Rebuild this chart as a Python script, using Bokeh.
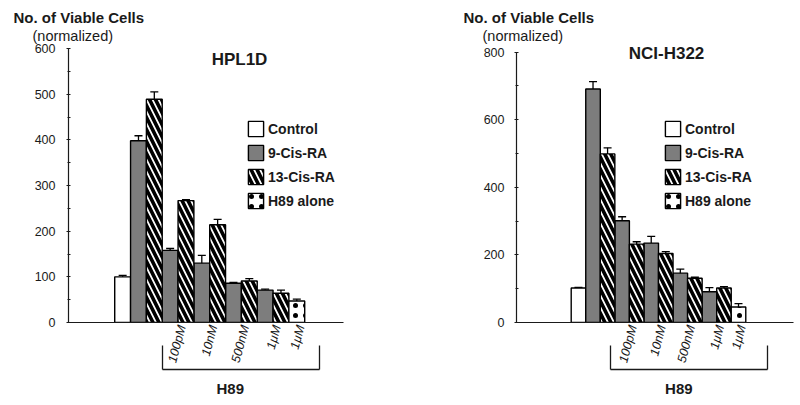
from bokeh.plotting import figure
from bokeh.models import (Range1d, FixedTicker, ColumnDataSource, Whisker, TeeHead,
                          Label, Legend, LegendItem, LinearAxis, Title)
from bokeh.layouts import row
from bokeh.embed import file_html
from bokeh.resources import INLINE

FONT = "Liberation Sans"

# ---------------- data ----------------
series_names = ["Control", "9-Cis-RA", "13-Cis-RA", "H89 alone"]
dose_labels = ["100pM", "10nM", "500nM", "1\u03bcM", "1\u03bcM"]   # H89 doses
bracket_title = "H89"
ytitle = "No. of Viable Cells"
ysub = "(normalized)"

# HPL1D
hpl_title = "HPL1D"
hpl_control = [100]
hpl_control_err = [3]
hpl_9cis = [398, 158, 130, 86, 71]        # no H89, 100pM, 10nM, 500nM, 1uM
hpl_9cis_err = [11, 4, 17, 2, 2]
hpl_13cis = [489, 267, 214, 91, 64]
hpl_13cis_err = [16, 2, 12, 5, 7]
hpl_alone = [47]
hpl_alone_err = [4]
hpl_yticks = [0, 100, 200, 300, 400, 500, 600]
hpl_yminor = [50, 150, 250, 350, 450, 550]

# NCI-H322
nci_title = "NCI-H322"
nci_control = [102]
nci_control_err = [2]
nci_9cis = [691, 301, 235, 146, 91]
nci_9cis_err = [22, 12, 20, 12, 12]
nci_13cis = [499, 232, 204, 131, 102]
nci_13cis_err = [18, 7, 6, 3, 4]
nci_alone = [46]
nci_alone_err = [10]
nci_yticks = [0, 200, 400, 600, 800]
nci_yminor = [100, 300, 500, 700]

GRAY = "#7d7d7d"
INK = "#1a1a1a"


def panel(title, control, control_err, cis9, cis9_err, cis13, cis13_err, alone, alone_err,
          yticks, yminor, geom):
    p = figure(width=geom["w"], height=405, output_backend="svg", toolbar_location=None,
               x_range=Range1d(*geom["xr"]), y_range=Range1d(0, geom["ytop"]),
               min_border_left=geom["bl"], min_border_right=geom["br"],
               min_border_top=44, min_border_bottom=83,
               background_fill_color="white", border_fill_color="white")
    p.outline_line_color = None
    p.grid.visible = False

    # bar positions: control, then (9-cis, 13-cis) pairs, then H89 alone
    n = len(cis9)
    x_ctrl = [0]
    x_9 = [1 + 2 * i for i in range(n)]
    x_13 = [2 + 2 * i for i in range(n)]
    x_alone = [2 * n + 1]

    styles = [
        dict(fill_color="white"),
        dict(fill_color=GRAY),
        dict(fill_color="white", hatch_pattern="\\", hatch_color="black",
             hatch_weight=3.6, hatch_scale=12),
        dict(fill_color="white", hatch_pattern=".", hatch_color="black",
             hatch_weight=4, hatch_scale=10),
    ]
    data = [(x_ctrl, control, control_err), (x_9, cis9, cis9_err),
            (x_13, cis13, cis13_err), (x_alone, alone, alone_err)]
    items = []
    for name, st, (xs, vals, errs) in zip(series_names, styles, data):
        src = ColumnDataSource(dict(x=xs, top=vals,
                                    upper=[v + e for v, e in zip(vals, errs)]))
        r = p.vbar(x="x", top="top", width=1, source=src, line_color="black",
                   line_width=1.4, **st)
        w = Whisker(source=src, base="x", lower="top", upper="upper",
                    line_color="black", line_width=1.3, lower_head=None,
                    upper_head=TeeHead(size=8, line_color="black", line_width=1.3),
                    level="overlay")
        p.add_layout(w)
        items.append(LegendItem(label=name, renderers=[r]))

    legend = Legend(items=items, location=geom["leg"], orientation="vertical",
                    glyph_width=19, glyph_height=19, label_height=19, spacing=5,
                    padding=0, margin=0, label_standoff=3,
                    label_text_font=FONT, label_text_font_style="bold",
                    label_text_font_size="14px", label_text_color=INK,
                    border_line_color=None, background_fill_alpha=0)
    p.add_layout(legend)

    # y axis
    p.yaxis.bounds = (0, yticks[-1])
    p.yaxis.ticker = FixedTicker(ticks=yticks, minor_ticks=yminor)
    p.yaxis.axis_line_color = INK
    p.yaxis.axis_line_width = 1.2
    p.yaxis.major_tick_in = 2
    p.yaxis.major_tick_out = 2
    p.yaxis.minor_tick_in = 2
    p.yaxis.minor_tick_out = 1
    p.yaxis.major_tick_line_color = INK
    p.yaxis.minor_tick_line_color = INK
    p.yaxis.major_label_standoff = geom["stand"]
    p.yaxis.major_label_text_font = FONT
    p.yaxis.major_label_text_font_size = "12.5px"
    p.yaxis.major_label_text_color = INK

    # x axis with the H89 dose labels
    lab_x = [x_9[i] + 0.75 for i in range(1, n)] + [x_alone[0] + 0.25]
    xa = p.xaxis[0]
    xa.ticker = FixedTicker(ticks=lab_x)
    xa.major_label_overrides = {t: s for t, s in zip(lab_x, dose_labels)}
    xa.major_label_orientation = 1.31
    xa.major_label_standoff = 3
    xa.major_tick_out = 0
    xa.major_tick_in = 0
    xa.major_tick_line_color = None
    xa.minor_tick_line_color = None
    xa.axis_line_color = INK
    xa.axis_line_width = 1.2
    xa.major_label_text_font = FONT
    xa.major_label_text_font_style = "italic"
    xa.major_label_text_font_size = "12.5px"
    xa.major_label_text_color = INK

    # invisible spacer axis
    sp = LinearAxis(ticker=FixedTicker(ticks=[]), axis_line_color=None,
                    major_tick_out=geom["gap"], major_tick_in=0,
                    major_tick_line_color=None, minor_tick_line_color=None,
                    major_label_standoff=0, major_label_text_font_size="0px")
    p.add_layout(sp, "below")

    # bracket axis for H89
    L, R = geom["brk"]
    H = geom["h89"]
    bx = LinearAxis(bounds=(L, R), ticker=FixedTicker(ticks=[H], minor_ticks=[L, R]),
                    major_label_overrides={H: bracket_title},
                    axis_line_color=INK, axis_line_width=1.3,
                    major_tick_line_color=None, major_tick_in=0, major_tick_out=0,
                    minor_tick_line_color=INK, minor_tick_line_width=1.3,
                    minor_tick_in=24, minor_tick_out=0,
                    major_label_standoff=10, major_label_text_font=FONT,
                    major_label_text_font_style="bold",
                    major_label_text_font_size="15px", major_label_text_color=INK)
    p.add_layout(bx, "below")

    # y axis titles above the plot
    p.add_layout(Title(text=ysub, align="left", offset=geom["ax"] + 19, standoff=0,
                       vertical_align="middle", text_font=FONT,
                       text_font_style="normal", text_font_size="14.5px",
                       text_color=INK), "above")
    p.add_layout(Title(text=ytitle, align="left", offset=geom["ax"], standoff=0,
                       vertical_align="middle", text_font=FONT,
                       text_font_style="bold", text_font_size="15px",
                       text_color=INK), "above")

    # panel title
    p.add_layout(Label(x=geom["tx"], y=geom["ty"], x_units="screen", y_units="screen",
                       text=title, text_align="center", text_baseline="middle",
                       text_font=FONT, text_font_style="bold", text_font_size="17px",
                       text_color=INK))
    return p


g1 = dict(w=404, xr=(-3.42, 13.95), ytop=608.8, bl=68, br=61, stand=11,
          leg=(178, 112), brk=(2.5, 12.45), h89=6.8, gap=12, tx=171, ty=263, ax=-55)
g2 = dict(w=396, xr=(-4.26, 14.78), ytop=822.8, bl=112, br=7, stand=10,
          leg=(147, 112), brk=(2.2, 12.97), h89=6.9, gap=12, tx=150, ty=269.5, ax=-53)

p1 = panel(hpl_title, hpl_control, hpl_control_err, hpl_9cis, hpl_9cis_err,
           hpl_13cis, hpl_13cis_err, hpl_alone, hpl_alone_err, hpl_yticks, hpl_yminor, g1)
p2 = panel(nci_title, nci_control, nci_control_err, nci_9cis, nci_9cis_err,
           nci_13cis, nci_13cis_err, nci_alone, nci_alone_err, nci_yticks, nci_yminor, g2)

layout = row(p1, p2, spacing=0)
open("out.html", "w").write(file_html(layout, INLINE))
